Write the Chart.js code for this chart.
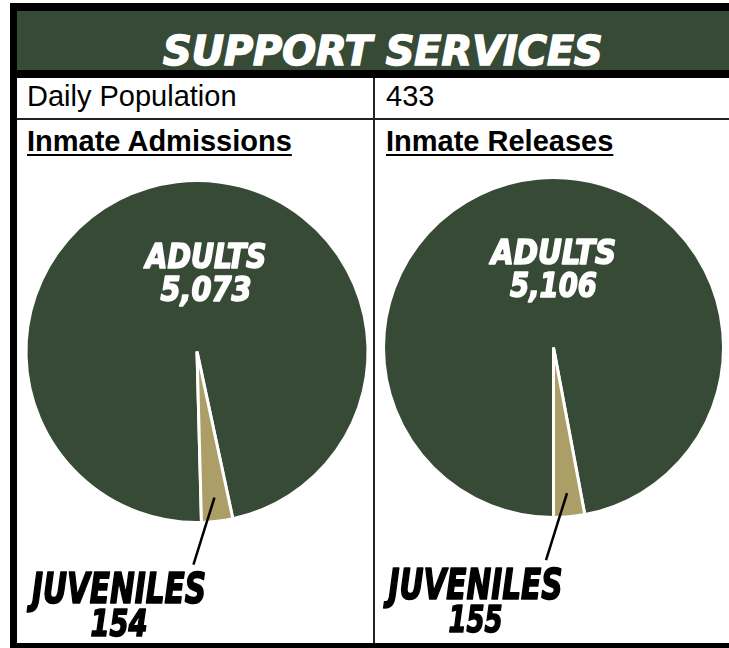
<!DOCTYPE html>
<html>
<head>
<meta charset="utf-8">
<script src="https://cdn.jsdelivr.net/npm/chart.js@4"></script>
<style>
  html, body { margin: 0; padding: 0; background: #fff; }
  #page { position: relative; width: 729px; height: 648px; overflow: hidden; font-family: "Liberation Sans", Arial, sans-serif; }
  .blk { position: absolute; background: #000; }
  #banner { position: absolute; left: 17px; top: 11px; right: 0; height: 59px; background: #374a35; }
  #title { position: absolute; left: 163px; top: 27px; line-height: 40px; font: italic bold 41px "DejaVu Sans Condensed", sans-serif; color: #fff; -webkit-text-stroke: 1.5px #fff; white-space: nowrap; transform-origin: 0 0; }
  .cell { position: absolute; font-size: 29px; line-height: 29px; color: #000; white-space: nowrap; }
  .head { position: absolute; font-size: 29px; line-height: 29px; font-weight: bold; text-decoration: underline; text-decoration-thickness: 2px; text-underline-offset: 3px; white-space: nowrap; }
  canvas { position: absolute; }
</style>
</head>
<body>
<div id="page">
  <div class="blk" style="left:10px; top:3px; width:719px; height:75px;"></div>
  <div id="banner"></div>
  <div id="title">SUPPORT SERVICES</div>
  <div class="blk" style="left:10px; top:78px; width:7px; height:570px;"></div>
  <div class="blk" style="left:17px; top:118px; width:712px; height:2px; background:#222;"></div>
  <div class="blk" style="left:373px; top:78px; width:2px; height:566px; background:#222;"></div>
  <div class="blk" style="left:10px; top:643px; width:719px; height:5px;"></div>
  <div class="cell" style="left:27px; top:82px;" id="popLabel"></div>
  <div class="cell" style="left:386px; top:82px;" id="popValue"></div>
  <div class="head" style="left:27px; top:127px;">Inmate Admissions</div>
  <div class="head" style="left:386px; top:127px;">Inmate Releases</div>
  <canvas id="admissionsChart" width="356" height="483" style="left:17px; top:160px;"></canvas>
  <canvas id="releasesChart" width="353" height="483" style="left:376px; top:160px;"></canvas>
</div>
<script>
const categories = ['ADULTS', 'JUVENILES'];
const admissions = [5073, 154];
const releases = [5106, 155];
const populationLabel = 'Daily Population';
const dailyPopulation = 433;

const green = '#374a35';
const tan = '#ac9e67';
const displayFont = '"DejaVu Sans Condensed", sans-serif';

document.getElementById('popLabel').textContent = populationLabel;
document.getElementById('popValue').textContent = dailyPopulation;

// stretch the title to the width of the original lettering
const title = document.getElementById('title');
title.style.transform = 'scaleX(' + (440 / title.offsetWidth) + ')';

// heavy condensed italic lettering, squeezed to a given width
function fitText(ctx, text, x, y, size, width) {
    ctx.font = 'italic bold ' + size + 'px ' + displayFont;
    const w = ctx.measureText(text).width;
    ctx.save();
    ctx.translate(x, y);
    ctx.scale(width / w, 1);
    ctx.textAlign = 'center';
    ctx.textBaseline = 'alphabetic';
    ctx.lineJoin = 'round';
    ctx.lineWidth = 1.6;
    ctx.strokeStyle = ctx.fillStyle;
    ctx.strokeText(text, 0, 0);
    ctx.fillText(text, 0, 0);
    ctx.restore();
}

const pieLabels = {
    id: 'pieLabels',
    afterDraw(chart, args, opts) {
        const ctx = chart.ctx;
        const data = chart.data.datasets[0].data;
        const meta = chart.getDatasetMeta(0);
        const big = meta.data[0];
        const small = meta.data[1];
        const cx = big.x, cy = big.y, r = big.outerRadius;

        // adults label inside the big slice
        ctx.fillStyle = '#fff';
        fitText(ctx, categories[0], cx + opts.dx, cy - 84, 34, opts.w1);
        fitText(ctx, data[0].toLocaleString('en-US'), cx + opts.dx, cy - 51, 34, opts.w2);

        // leader line from the juvenile slice down to its label
        const mid = (small.startAngle + small.endAngle) / 2;
        const sx = cx + Math.cos(mid) * r * 0.86;
        const sy = cy + Math.sin(mid) * r * 0.86;
        ctx.strokeStyle = '#000';
        ctx.lineWidth = 2.5;
        ctx.beginPath();
        ctx.moveTo(sx, sy);
        ctx.lineTo(sx - 21, sy + 67);
        ctx.stroke();

        ctx.fillStyle = '#000';
        fitText(ctx, categories[1], cx - 78, cy + 251, 42, 174);
        fitText(ctx, data[1].toLocaleString('en-US'), cx - 78, cy + 284, 38, opts.w3);
    }
};

function makePie(id, values, rotation, padding, labelOpts) {
    new Chart(document.getElementById(id), {
        type: 'pie',
        data: {
            labels: categories,
            datasets: [{
                data: values,
                backgroundColor: [green, tan],
                borderColor: '#fff',
                borderWidth: 3
            }]
        },
        options: {
            responsive: false,
            animation: false,
            rotation: rotation,
            layout: { padding: padding },
            plugins: {
                legend: { display: false },
                tooltip: { enabled: false },
                pieLabels: labelOpts
            }
        },
        plugins: [pieLabels]
    });
}

makePie('admissionsChart', admissions, 178.5,
    { left: 7, right: 3, top: 19, bottom: 119 },
    { dx: 9, w1: 121, w2: 91, w3: 57 });
makePie('releasesChart', releases, 180,
    { left: 5, right: 3, top: 16, bottom: 124 },
    { dx: 0, w1: 125, w2: 87, w3: 54 });
</script>
</body>
</html>
